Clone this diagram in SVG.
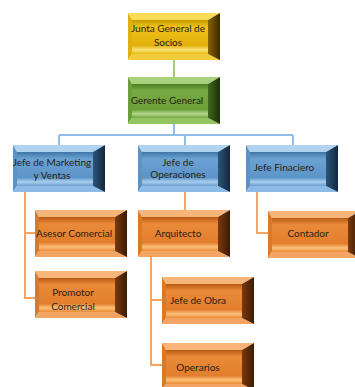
<svg xmlns="http://www.w3.org/2000/svg" width="355" height="387" viewBox="0 0 355 387">
  <style>
    .lbl { font-family: Lato, "Open Sans", sans-serif; font-size: 10px; text-anchor: middle; fill: #2a2116; }
    .c-green { stroke: #a3c97a; stroke-width: 2; fill: none; }
    .c-blue { stroke: #8fbde8; stroke-width: 2; fill: none; }
    .c-orange { stroke: #f2a464; stroke-width: 2; fill: none; }
    .face { fill: var(--face); } .top { fill: var(--top); } .lft { fill: var(--lft); } .bot { fill: var(--bot); } .rgt { fill: var(--rgt); }
    .y { --top: #f9dc55; --lft: #e0b010; --bot: #f2cc3a; --rgt: url(#yR); --face: url(#yF); }
    .g { --top: #a9d27c; --lft: #6c9e3c; --bot: #93c462; --rgt: url(#gR); --face: url(#gF); }
    .b { --top: #b0d3f0; --lft: #5d92c4; --bot: #8bbbe6; --rgt: url(#bR); --face: url(#bF); }
    .o { --top: #f8b57a; --lft: #d87a2c; --bot: #f4a462; --rgt: url(#oR); --face: url(#oF); }
  </style>
  <defs>
    <linearGradient id="yF" x1="0" y1="0" x2="0" y2="1">
      <stop offset="0" stop-color="#c89800"/><stop offset="0.2" stop-color="#eec21a"/><stop offset="0.75" stop-color="#e2b00c"/><stop offset="0.88" stop-color="#fbe27a"/><stop offset="1" stop-color="#e8b812"/>
    </linearGradient>
    <linearGradient id="yR" x1="0" y1="0" x2="1" y2="0">
      <stop offset="0" stop-color="#8a6400"/><stop offset="1" stop-color="#3a2800"/>
    </linearGradient>
    <linearGradient id="gF" x1="0" y1="0" x2="0" y2="1">
      <stop offset="0" stop-color="#4f7e26"/><stop offset="0.2" stop-color="#78aa44"/><stop offset="0.75" stop-color="#6c9e3a"/><stop offset="0.88" stop-color="#b2d88a"/><stop offset="1" stop-color="#74a640"/>
    </linearGradient>
    <linearGradient id="gR" x1="0" y1="0" x2="1" y2="0">
      <stop offset="0" stop-color="#3f6a1c"/><stop offset="1" stop-color="#1c3008"/>
    </linearGradient>
    <linearGradient id="bF" x1="0" y1="0" x2="0" y2="1">
      <stop offset="0" stop-color="#3f74a6"/><stop offset="0.2" stop-color="#6aa2d4"/><stop offset="0.75" stop-color="#5c94c8"/><stop offset="0.88" stop-color="#a9cdee"/><stop offset="1" stop-color="#6aa0d2"/>
    </linearGradient>
    <linearGradient id="bR" x1="0" y1="0" x2="1" y2="0">
      <stop offset="0" stop-color="#2c5478"/><stop offset="1" stop-color="#122840"/>
    </linearGradient>
    <linearGradient id="oF" x1="0" y1="0" x2="0" y2="1">
      <stop offset="0" stop-color="#b85a14"/><stop offset="0.2" stop-color="#ea8a3a"/><stop offset="0.75" stop-color="#e27e2c"/><stop offset="0.88" stop-color="#fbc07a"/><stop offset="1" stop-color="#ea8a36"/>
    </linearGradient>
    <linearGradient id="oR" x1="0" y1="0" x2="1" y2="0">
      <stop offset="0" stop-color="#7a3a0c"/><stop offset="1" stop-color="#3a1a04"/>
    </linearGradient>
    <!-- bevelled box, 92 x 47; colours come from the custom properties of the node group -->
    <g id="box">
      <polygon class="face" points="4,7 80,7 80,41 4,41"/>
      <polygon class="top" points="0,0 92,0 80,7 4,7"/>
      <polygon class="lft" points="0,0 4,7 4,41 0,47"/>
      <polygon class="bot" points="0,47 4,41 80,41 92,47"/>
      <polygon class="rgt" points="92,0 92,47 80,41 80,7"/>
    </g>
  </defs>

  <g id="connectors">
    <path class="c-green" d="M174,60 V78"/>
    <path class="c-blue" d="M174,123 V135 M59,135 H293 M59,135 V145 M185,135 V145 M293,135 V145"/>
    <path class="c-orange" d="M25,192 V298 H35 M25,233 H35"/>
    <path class="c-orange" d="M185,192 V210"/>
    <path class="c-orange" d="M151,257 V365 H162 M151,300 H162"/>
    <path class="c-orange" d="M257,192 V233 H268"/>
  </g>

  <g id="junta" class="y" transform="translate(128,13)">
    <use href="#box"/>
    <text class="lbl" x="40" y="19">Junta General de</text>
    <text class="lbl" x="40" y="33">Socios</text>
  </g>
  <g id="gerente" class="g" transform="translate(128,77)">
    <use href="#box"/>
    <text class="lbl" x="39" y="27">Gerente General</text>
  </g>
  <g id="marketing" class="b" transform="translate(13,145)">
    <use href="#box"/>
    <text class="lbl" x="39" y="21">Jefe de Marketing</text>
    <text class="lbl" x="39" y="34">y Ventas</text>
  </g>
  <g id="operaciones" class="b" transform="translate(138,145)">
    <use href="#box"/>
    <text class="lbl" x="40" y="21">Jefe de</text>
    <text class="lbl" x="40" y="33">Operaciones</text>
  </g>
  <g id="financiero" class="b" transform="translate(246,145)">
    <use href="#box"/>
    <text class="lbl" x="38" y="26">Jefe Finaciero</text>
  </g>
  <g id="asesor" class="o" transform="translate(35,210)">
    <use href="#box"/>
    <text class="lbl" x="39" y="27">Asesor Comercial</text>
  </g>
  <g id="promotor" class="o" transform="translate(35,271)">
    <use href="#box"/>
    <text class="lbl" x="38" y="25">Promotor</text>
    <text class="lbl" x="38" y="39">Comercial</text>
  </g>
  <g id="arquitecto" class="o" transform="translate(138,210)">
    <use href="#box"/>
    <text class="lbl" x="40" y="27">Arquitecto</text>
  </g>
  <g id="jefe-obra" class="o" transform="translate(162,277)">
    <use href="#box"/>
    <text class="lbl" x="36" y="27">Jefe de Obra</text>
  </g>
  <g id="operarios" class="o" transform="translate(162,343)">
    <use href="#box"/>
    <text class="lbl" x="36" y="28">Operarios</text>
  </g>
  <g id="contador" class="o" transform="translate(268,211)">
    <use href="#box"/>
    <text class="lbl" x="40" y="26">Contador</text>
  </g>
</svg>
